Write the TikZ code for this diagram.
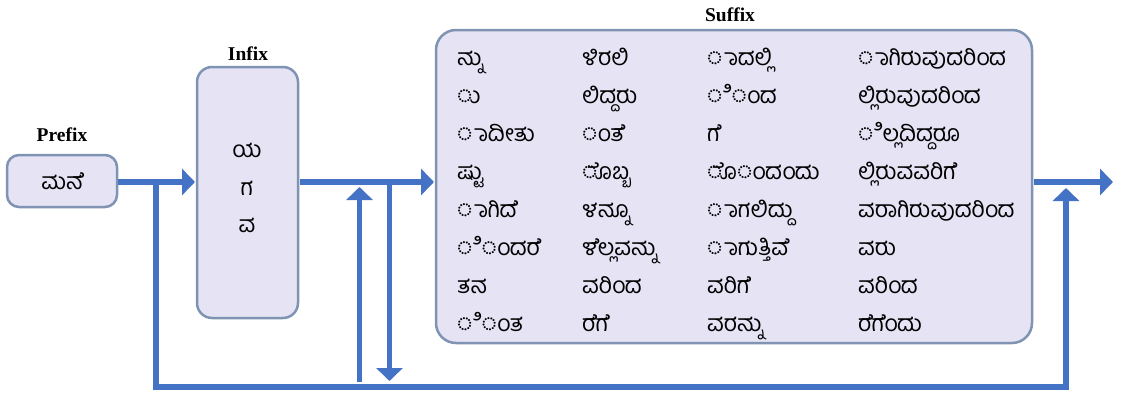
\documentclass[tikz,border=0pt]{standalone}
\usepackage{fontspec}
\setmainfont{Liberation Serif}
\newfontfamily\kan[Script=Kannada]{Hind Mysuru}
\usetikzlibrary{arrows.meta}
\definecolor{arrowblue}{HTML}{4472C4}
\definecolor{boxfill}{HTML}{E5E3F4}
\definecolor{boxline}{HTML}{7F93B2}
% vowel sign E glyph, placed by hand over the preceding letter (the font drops it when shaping)
\newcommand\esg{\setbox4\hbox{\XeTeXglyph354}\kern-0.7\wd4\XeTeXglyph354\kern-0.3\wd4\relax}
% #1#2 shaped together, with the E sign set on #1
\newcommand\hk[2]{\setbox0\hbox{#1#2}\setbox2\hbox{#1}\dimen0=\wd0\advance\dimen0-\wd2\relax#1#2\kern-\dimen0\esg\kern\dimen0\relax}
\begin{document}
\begin{tikzpicture}[x=1pt,y=-1pt,
  box/.style={draw=boxline, fill=boxfill, line width=2.5pt, inner sep=0pt},
  lab/.style={font=\fontsize{19.5}{19.5}\selectfont\bfseries, inner sep=0pt},
  kt/.style={font=\kan\fontsize{23}{23}\selectfont, inner sep=0pt},
  arr/.style={draw=arrowblue, line width=6pt, line join=miter, -{Triangle[length=13pt,width=26pt]}}]
\useasboundingbox (0,0) rectangle (1122,407);
% boxes
\node[box, minimum width=110pt, minimum height=52pt, rounded corners=12pt] (pre) at (62,181) {};
\node[box, minimum width=101pt, minimum height=251pt, rounded corners=15pt] (inf) at (247.5,192.5) {};
\node[box, minimum width=596pt, minimum height=313pt, rounded corners=20pt] (suf) at (734,186.5) {};
% labels
\node[lab] (prel) at (62,135) {Prefix};
\node[lab] (infl) at (248,54) {Infix};
\node[lab] (sufl) at (730,15) {Suffix};
% prefix / infix texts
\node[kt, anchor=base] (pt) at (62,189) {ಮನ\esg};
\node[kt, anchor=base] (i1) at (247,157) {ಯ};
\node[kt, anchor=base] (i2) at (247,195) {ಗ};
\node[kt, anchor=base] (i3) at (247,232) {ವ};
% suffix texts
\foreach \t [count=\i] in {ನ್ನು,◌ು,◌ಾದೀತು,ಷ್ಟು,◌ಾಗಿದ\esg,◌ಿ◌ಂದರ\esg,ತನ,◌ಿ◌ಂತ}
  {\node[kt, anchor=base west] (a\i) at (457,{27+38*\i}) {\t};}
\foreach \t [count=\i] in {ಳಿರಲಿ,ಲಿದ್ದರು,◌ಂತ\esg,\hk{◌}{ೂ}ಬ್ಬ,ಳನ್ನೂ,ಳ\esg{}ಲ್ಲವನ್ನು,ವರಿಂದ,ರ\esg{}ಗ\esg}
  {\node[kt, anchor=base west] (b\i) at (582,{27+38*\i}) {\t};}
\foreach \t [count=\i] in {◌ಾದಲ್ಲಿ,◌ಿ◌ಂದ,ಗ\esg,\hk{◌}{ೂ}◌ಂದಂದು,◌ಾಗಲಿದ್ದು,◌ಾಗುತ್ತಿವ\esg,ವರಿಗ\esg,ವರನ್ನು}
  {\node[kt, anchor=base west] (c\i) at (707,{27+38*\i}) {\t};}
\foreach \t [count=\i] in {◌ಾಗಿರುವುದರಿಂದ,ಲ್ಲಿರುವುದರಿಂದ,◌ಿಲ್ಲದಿದ್ದರೂ,ಲ್ಲಿರುವವರಿಗ\esg,ವರಾಗಿರುವುದರಿಂದ,ವರು,ವರಿಂದ,ರ\esg{}\hk{ಗ}{ಂ}ದು}
  {\node[kt, anchor=base west] (d\i) at (858,{27+38*\i}) {\t};}
% connector coordinates
\coordinate (p1) at (118,182);
\coordinate (p2) at (195,182);
\coordinate (q1) at (300,182);
\coordinate (q2) at (434,182);
\coordinate (r1) at (1034,182);
\coordinate (r2) at (1113,182);
\coordinate (j1) at (156,179);
\coordinate (bl) at (156,387);
\coordinate (br) at (1066,387);
\coordinate (bt) at (1066,188);
\coordinate (u1) at (359.5,382);
\coordinate (u2) at (359.5,187);
\coordinate (d1) at (389.5,179);
\coordinate (d2) at (389.5,381);
% connectors
\draw[arr] (p1) -- (p2);
\draw[arr] (q1) -- (q2);
\draw[arr] (r1) -- (r2);
\draw[arr] (j1) -- (bl) -- (br) -- (bt);
\draw[arr, line width=5.5pt] (u1) -- (u2);
\draw[arr, line width=5.5pt] (d1) -- (d2);
\end{tikzpicture}
\end{document}
